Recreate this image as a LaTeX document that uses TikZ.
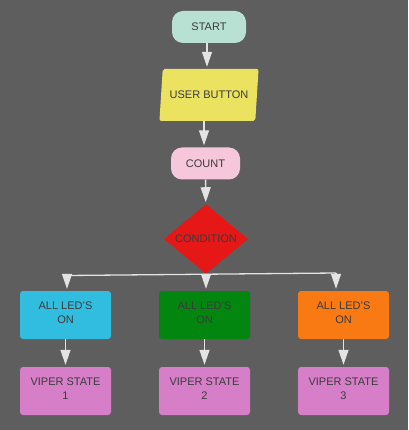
\documentclass[tikz,border=0pt]{standalone}
\usepackage{fontspec}
\setmainfont{Liberation Sans}
\usetikzlibrary{shapes.geometric,arrows.meta,calc}
\definecolor{bggray}{HTML}{5E5E5E}
\definecolor{mint}{HTML}{B9E1D3}
\definecolor{sand}{HTML}{EBE25F}
\definecolor{blush}{HTML}{F6C7DA}
\definecolor{alarm}{HTML}{E61717}
\definecolor{sky}{HTML}{31BDE0}
\definecolor{leaf}{HTML}{02860F}
\definecolor{tangerine}{HTML}{F97913}
\definecolor{orchid}{HTML}{D67EC7}
\definecolor{inkgray}{HTML}{3B3B3B}
\definecolor{wiregray}{HTML}{E3E3E3}
\tikzset{
      base/.style = { font=\fontsize{11}{14}\selectfont, text=inkgray, align=center, inner sep=2pt },
  terminal/.style = { base, rounded corners=11pt, minimum height=32pt },
        io/.style = { base, trapezium, trapezium left angle=76, trapezium right angle=104,
                      trapezium stretches=true, minimum width=100pt, minimum height=52pt,
                      rounded corners=2pt, fill=sand },
  decision/.style = { base, diamond, minimum width=84pt, minimum height=64pt,
                      inner sep=0pt, fill=alarm },
    ledbox/.style = { base, rounded corners=3pt, minimum width=91pt, minimum height=48pt,
                      text depth=5pt },
  viperbox/.style = { ledbox, fill=orchid },
      wire/.style = { line width=1.3pt, color=wiregray },
     arrow/.style = { wire, shorten >=2pt, -{Triangle[width=10pt,length=15pt]} },
}

\begin{document}
\begin{tikzpicture}[x=1pt,y=-1pt]
  \fill[bggray] (0,0) rectangle (408,430);
  \useasboundingbox (0,0) rectangle (408,430);

  % main chain
  \node[terminal, fill=mint, minimum width=74pt] (start) at (209,27) {START};
  \node[io] (user) at (209,95) {USER BUTTON};
  \node[terminal, fill=blush, minimum width=69pt] (count) at (205.5,163.5) {COUNT};
  \node[decision] (cond) at (206,239) {CONDITION};

  % three branches
  \node[ledbox, fill=sky] (led1) at (65.5,315) {ALL LED'S\\ON};
  \node[ledbox, fill=leaf] (led2) at (204.5,315) {ALL LED'S\\ON};
  \node[ledbox, fill=tangerine] (led3) at (343.5,315) {ALL LED'S\\ON};
  \foreach \i in {1,2,3} {
    \node[viperbox] (viper\i) at ($(led\i)+(0,76)$) {VIPER STATE\\\i};
  }

  \draw [arrow] (start.south -| 207,0) -- (user.north -| 207,0);
  \draw [arrow] (user.south -| 204,0) -- (count.north -| 204,0);
  \draw [arrow] (count) -- (cond);

  \coordinate (forkL) at (67,275.5);
  \coordinate (forkR) at (336,273);
  \draw [wire] (forkL) -- (forkR);
  \draw [arrow] (forkL) -- (forkL |- led1.north);
  \draw [arrow] (cond.south) -- (cond.south |- led2.north);
  \draw [arrow] (forkR) -- (forkR |- led3.north);

  \foreach \i in {1,2,3} {
    \draw [arrow] (led\i) -- (viper\i);
  }
\end{tikzpicture}
\end{document}
